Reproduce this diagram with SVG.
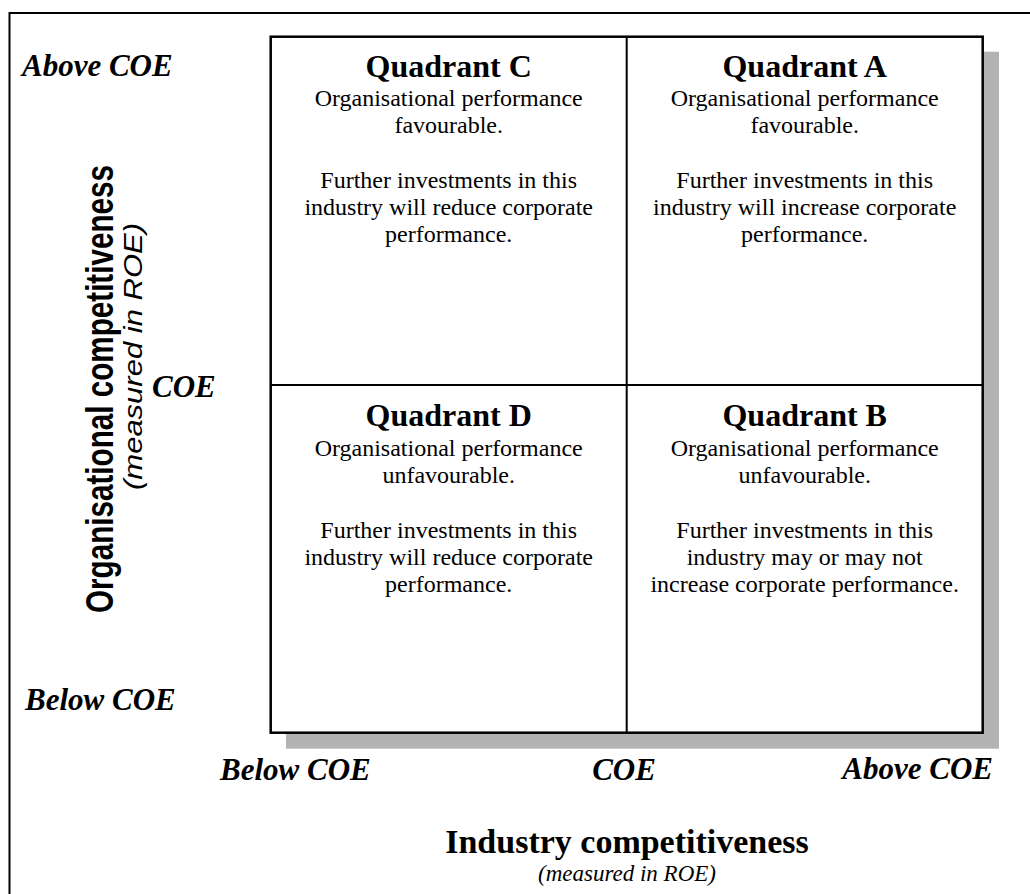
<svg xmlns="http://www.w3.org/2000/svg" width="1030" height="894" viewBox="0 0 1030 894">
<style>
.ser{font-family:"Liberation Serif","Times New Roman",serif;fill:#000}
.title{font-size:32px;font-weight:bold;text-anchor:middle}
.body{font-size:24px;text-anchor:middle}
.axis{font-size:31px;font-weight:bold;font-style:italic}
.sans{font-family:"Liberation Sans",Arial,sans-serif;fill:#000}
.line{stroke:#000;fill:none}
</style>
<rect width="1030" height="894" fill="#fff"/>
<rect class="line" x="9.5" y="13" width="1030" height="900" stroke-width="2"/>
<g id="matrix">
<rect x="286" y="51.7" width="713" height="697" fill="#b3b3b3"/>
<rect x="270.7" y="36.7" width="712" height="696" fill="#fff" stroke="#000" stroke-width="2.5"/>
</g>
<g id="connectors">
<line class="line" x1="626.7" y1="36.7" x2="626.7" y2="732.7" stroke-width="2"/>
<line class="line" x1="270.7" y1="385" x2="982.7" y2="385" stroke-width="2"/>
</g>
<g id="quadrant-c" class="ser">
<text class="title" x="448.7" y="77">Quadrant C</text>
<text class="body" x="448.7" y="106">Organisational performance</text>
<text class="body" x="448.7" y="133">favourable.</text>
<text class="body" x="448.7" y="188">Further investments in this</text>
<text class="body" x="448.7" y="215">industry will reduce corporate</text>
<text class="body" x="448.7" y="242">performance.</text>
</g>
<g id="quadrant-a" class="ser">
<text class="title" x="804.7" y="77">Quadrant A</text>
<text class="body" x="804.7" y="106">Organisational performance</text>
<text class="body" x="804.7" y="133">favourable.</text>
<text class="body" x="804.7" y="188">Further investments in this</text>
<text class="body" x="804.7" y="215">industry will increase corporate</text>
<text class="body" x="804.7" y="242">performance.</text>
</g>
<g id="quadrant-d" class="ser">
<text class="title" x="448.7" y="426">Quadrant D</text>
<text class="body" x="448.7" y="456">Organisational performance</text>
<text class="body" x="448.7" y="483">unfavourable.</text>
<text class="body" x="448.7" y="538">Further investments in this</text>
<text class="body" x="448.7" y="565">industry will reduce corporate</text>
<text class="body" x="448.7" y="592">performance.</text>
</g>
<g id="quadrant-b" class="ser">
<text class="title" x="804.7" y="426">Quadrant B</text>
<text class="body" x="804.7" y="456">Organisational performance</text>
<text class="body" x="804.7" y="483">unfavourable.</text>
<text class="body" x="804.7" y="538">Further investments in this</text>
<text class="body" x="804.7" y="565">industry may or may not</text>
<text class="body" x="804.7" y="592">increase corporate performance.</text>
</g>
<g id="y-axis">
<text class="ser axis" x="22" y="76">Above COE</text>
<text class="ser axis" x="152" y="397">COE</text>
<text class="ser axis" x="25" y="710">Below COE</text>
<text class="sans" transform="translate(113,389) rotate(-90)" text-anchor="middle" font-size="39" font-weight="bold" textLength="448" lengthAdjust="spacingAndGlyphs">Organisational competitiveness</text>
<text class="sans" transform="translate(142,356.5) rotate(-90)" text-anchor="middle" font-size="26" font-style="italic" textLength="267" lengthAdjust="spacingAndGlyphs">(measured in ROE)</text>
</g>
<g id="x-axis">
<text class="ser axis" x="220" y="780">Below COE</text>
<text class="ser axis" x="624" y="780" text-anchor="middle">COE</text>
<text class="ser axis" x="993" y="779" text-anchor="end">Above COE</text>
<text class="ser" x="627" y="853" text-anchor="middle" font-size="34" font-weight="bold">Industry competitiveness</text>
<text class="ser" x="627" y="881" text-anchor="middle" font-size="23" font-style="italic">(measured in ROE)</text>
</g>
</svg>
